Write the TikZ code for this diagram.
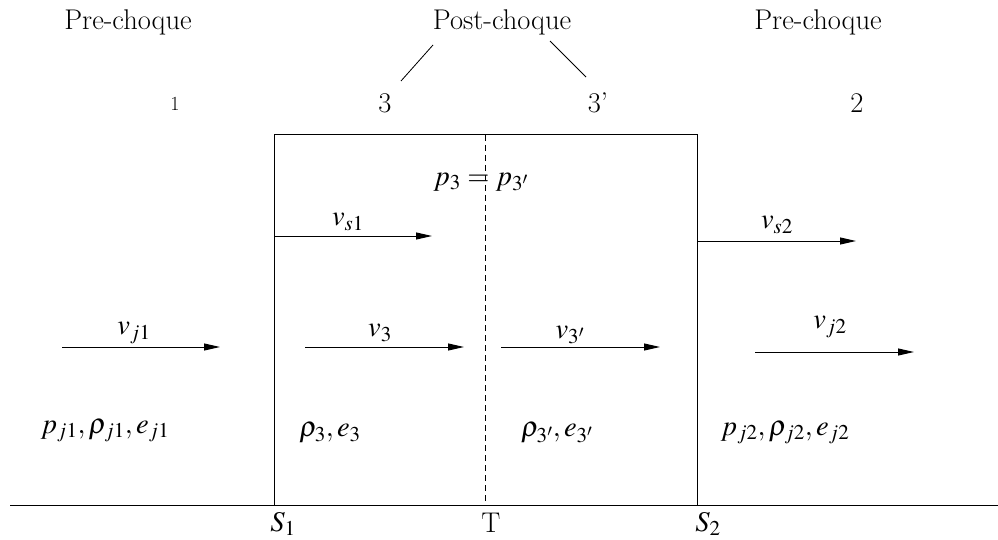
\documentclass[tikz,border=0pt]{standalone}
\usepackage{mathptmx}
\usetikzlibrary{arrows.meta}
\begin{document}
\begin{tikzpicture}[x=1pt,y=-1pt,
  every node/.style={inner sep=0pt,font=\fontsize{28.5}{34}\selectfont},
  ln/.style={line width=1pt},
  vec/.style={line width=1pt,-{Triangle[length=16pt,width=7pt]}},
  small/.style={font=\fontsize{20}{24}\selectfont}]
\useasboundingbox (0,0) rectangle (998,540);
% regions
\node (pre1) at (128,22) {Pre-choque};
\node (post) at (502,22) {Post-choque};
\node (pre2) at (818,22) {Pre-choque};
\node[small] (r1) at (175,104) {1};
\node (r3) at (385,103) {3};
\node (r3p) at (598,103) {3'};
\node (r2) at (857,103) {2};
\coordinate (pa) at (433,45); \coordinate (pb) at (401,81);
\coordinate (pc) at (550,41); \coordinate (pd) at (586,77);
\draw[line width=0.8pt] (pa) -- (pb);
\draw[line width=0.8pt] (pc) -- (pd);
% box and ground
\coordinate (g1) at (10,505); \coordinate (g2) at (998,505);
\coordinate (b1) at (274,505); \coordinate (b2) at (274,135);
\coordinate (b3) at (697,135); \coordinate (b4) at (697,505);
\coordinate (t1) at (485,135); \coordinate (t2) at (485,505);
\draw[ln] (g1) -- (g2);
\draw[ln] (b1) -- (b2) -- (b3) -- (b4);
\draw[line width=0.8pt,dash pattern=on 6pt off 4pt] (t1) -- (t2);
\node (S1) at (283,524) {$S_1$};
\node (T) at (491,523) {T};
\node (S2) at (708,524) {$S_2$};
\node (peq) at (481,182) {$p_3=p_{3'}$};
% velocities
\coordinate (vs1a) at (274,236); \coordinate (vs1b) at (432,236);
\draw[vec] (vs1a) -- (vs1b);
\node (lvs1) at (348,222) {$v_{s1}$};
\coordinate (vs2a) at (697,241); \coordinate (vs2b) at (856,241);
\draw[vec] (vs2a) -- (vs2b);
\node (lvs2) at (777,225) {$v_{s2}$};
\coordinate (vj1a) at (62,347); \coordinate (vj1b) at (220,347);
\draw[vec] (vj1a) -- (vj1b);
\node (lvj1) at (134,333) {$v_{j1}$};
\coordinate (v3a) at (305,347); \coordinate (v3b) at (464,347);
\draw[vec] (v3a) -- (v3b);
\node (lv3) at (380,333) {$v_3$};
\coordinate (v3pa) at (501,347); \coordinate (v3pb) at (660,347);
\draw[vec] (v3pa) -- (v3pb);
\node (lv3p) at (570,335) {$v_{3'}$};
\coordinate (vj2a) at (755,352); \coordinate (vj2b) at (914,352);
\draw[vec] (vj2a) -- (vj2b);
\node (lvj2) at (830,327) {$v_{j2}$};
% states
\node (st1) at (105,431) {$p_{j1},\rho_{j1},e_{j1}$};
\node (st3) at (330,433) {$\rho_3,e_3$};
\node (st3p) at (557,433) {$\rho_{3'},e_{3'}$};
\node (st2) at (785,433) {$p_{j2},\rho_{j2},e_{j2}$};
\end{tikzpicture}
\end{document}
